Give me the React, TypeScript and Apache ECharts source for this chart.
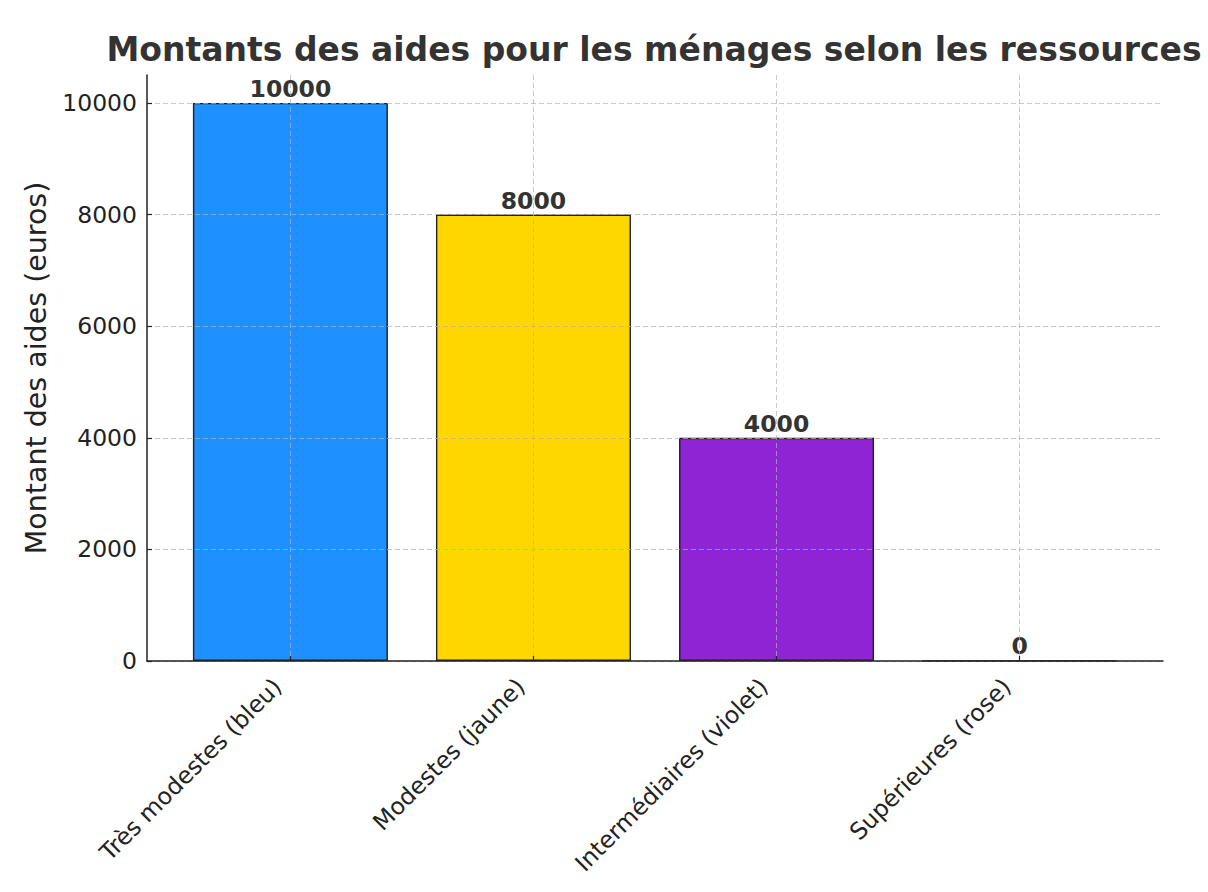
import React, { useEffect, useRef } from "react";
import * as echarts from "echarts";

const categories = ["Très modestes (bleu)", "Modestes (jaune)", "Intermédiaires (violet)", "Supérieures (rose)"];
const values = [10000, 8000, 4000, 0];
const colors = ["#1E90FF", "#FFD700", "#8E24D4", "#FFC0CB"];
const yTicks = [0, 2000, 4000, 6000, 8000, 10000];
const xTicks = [0, 1, 2, 3];
const titleText = "Montants des aides pour les ménages selon les ressources";

const FONT = "DejaVu Sans";

export default function App() {
  const ref = useRef<HTMLDivElement>(null);
  useEffect(() => {
    const chart = echarts.init(ref.current!, null, { renderer: "svg" });
    const grid = "rgba(176,176,176,0.7)";
    chart.setOption({
      animation: false,
      backgroundColor: "#fff",
      textStyle: { fontFamily: FONT },
      graphic: [
        {
          type: "text",
          x: 654,
          y: 33,
          style: {
            text: titleText,
            align: "center",
            verticalAlign: "top",
            fontFamily: FONT,
            fontSize: 33,
            fontWeight: "bold",
            fill: "#333",
          },
        },
      ],
      grid: { left: 147, right: 45, top: 75, bottom: 231 },
      xAxis: {
        type: "value",
        min: -0.59,
        max: 3.59,
        z: 3,
        axisLine: { show: true, onZero: false, lineStyle: { color: "#222", width: 1.5 } },
        axisTick: { show: true, inside: true, length: 5, customValues: xTicks, lineStyle: { color: "#222", width: 1.2 } },
        axisLabel: {
          customValues: xTicks,
          rotate: 45,
          margin: 9,
          padding: [0, 18, 0, 0],
          fontFamily: FONT,
          fontSize: 23.5,
          color: "#222",
          formatter: (v: number) => categories[Math.round(v)] ?? "",
        },
        splitLine: { show: true, lineStyle: { color: grid, type: [5, 3], width: 1 } },
      },
      yAxis: {
        type: "value",
        min: 0,
        max: 10500,
        z: 3,
        name: "Montant des aides (euros)",
        nameLocation: "middle",
        nameGap: 95,
        nameTextStyle: { fontFamily: FONT, fontSize: 28.5, color: "#222" },
        axisLine: { show: true, onZero: false, lineStyle: { color: "#222", width: 1.5 } },
        axisTick: { show: true, inside: true, length: 5, customValues: yTicks, lineStyle: { color: "#222", width: 1.2 } },
        axisLabel: {
          customValues: yTicks,
          margin: 10,
          fontFamily: FONT,
          fontSize: 23.5,
          color: "#222",
          formatter: (v: number) => String(v),
        },
        splitLine: { show: true, lineStyle: { color: grid, type: [5, 3], width: 1 } },
      },
      series: [
        {
          type: "bar",
          barWidth: 195,
          data: values.map((v, i) => ({
            value: [xTicks[i], v],
            itemStyle: { color: colors[i], borderColor: "#222", borderWidth: 1.4 },
          })),
          label: {
            show: true,
            position: "top",
            distance: 2,
            fontFamily: FONT,
            fontSize: 23.5,
            fontWeight: "bold",
            color: "#333",
            formatter: (p: any) => String(p.value[1]),
          },
        },
      ],
    });
    return () => chart.dispose();
  }, []);
  return <div ref={ref} style={{ position: "absolute", left: 0, top: 0, width: 1208, height: 892 }} />;
}
